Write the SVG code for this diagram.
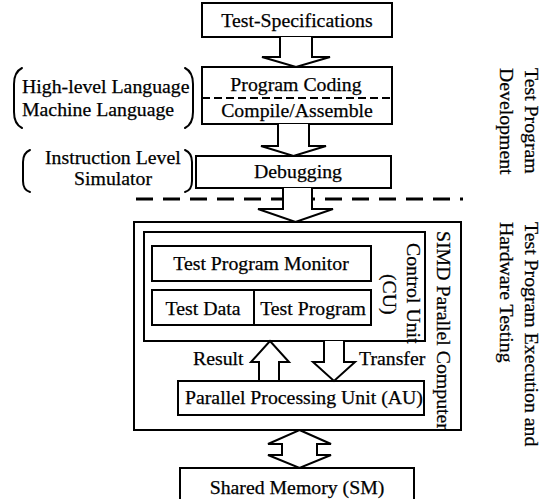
<svg xmlns="http://www.w3.org/2000/svg" width="546" height="499" viewBox="0 0 546 499">
  <style>
    .box { fill: #fff; stroke: #000; stroke-width: 2; }
    .frame { fill: none; stroke: #000; stroke-width: 2; }
    .arrow { fill: #fff; stroke: #000; stroke-width: 2; stroke-linejoin: miter; }
    .brace { fill: none; stroke: #000; stroke-width: 2; stroke-linecap: round; }
    text { font-family: 'Liberation Serif', 'DejaVu Serif', serif; font-size: 19.8px; fill: #000; stroke: #000; stroke-width: 0.25; }
    .mid { text-anchor: middle; }
  </style>
  <rect width="546" height="499" fill="#fff"/>

  <!-- development flow -->
  <g id="test-specifications">
    <rect class="box" x="202" y="3" width="190" height="34"/>
    <text class="mid" x="297" y="27">Test-Specifications</text>
  </g>

  <g id="coding">
    <rect class="box" x="202" y="67" width="190" height="57"/>
    <line x1="202" y1="98" x2="392" y2="98" stroke="#000" stroke-width="2" stroke-dasharray="8 4"/>
    <text class="mid" x="296" y="91">Program Coding</text>
    <text class="mid" x="297" y="117">Compile/Assemble</text>
  </g>

  <g id="languages">
    <path class="brace" d="M22,68 Q14,72 14,84 L14,112 Q14,124 22,128"/>
    <path class="brace" d="M185,68 Q193,72 193,84 L193,112 Q193,124 185,128"/>
    <text x="22" y="93">High-level Language</text>
    <text x="22" y="116">Machine Language</text>
  </g>

  <g id="debugging">
    <rect class="box" x="196" y="156" width="195" height="32"/>
    <text class="mid" x="298" y="178">Debugging</text>
  </g>

  <g id="simulator">
    <path class="brace" d="M30,150 Q23,153 23,162 L23,181 Q23,190 30,192"/>
    <path class="brace" d="M185,150 Q192,153 192,162 L192,181 Q192,190 185,192"/>
    <text x="45" y="164">Instruction Level</text>
    <text x="74" y="185">Simulator</text>
  </g>

  <!-- phase separator -->
  <line x1="136" y1="199" x2="463" y2="199" stroke="#000" stroke-width="3" stroke-dasharray="17 10"/>

  <!-- execution hardware -->
  <g id="simd-computer">
    <rect class="frame" x="134" y="222" width="327" height="208"/>
    <text transform="translate(437,231) rotate(90)">SIMD Parallel Computer</text>
  </g>

  <g id="control-unit">
    <rect class="frame" x="144" y="232" width="281" height="109"/>
    <text transform="translate(407,243) rotate(90)">Control Unit</text>
    <text transform="translate(383,274) rotate(90)">(CU)</text>
  </g>

  <g id="test-program-monitor">
    <rect class="box" x="152" y="246" width="219" height="35"/>
    <text class="mid" x="261" y="270">Test Program Monitor</text>
  </g>

  <g id="test-data">
    <rect class="box" x="152" y="290" width="102" height="35"/>
    <text class="mid" x="203" y="315">Test Data</text>
  </g>

  <g id="test-program">
    <rect class="box" x="254" y="290" width="117" height="35"/>
    <text class="mid" x="313" y="315">Test Program</text>
  </g>

  <g id="parallel-processing-unit">
    <rect class="box" x="178" y="381" width="246" height="34"/>
    <text x="185" y="404">Parallel Processing Unit (AU)</text>
  </g>

  <g id="shared-memory">
    <rect class="box" x="180" y="468" width="234" height="50"/>
    <text class="mid" x="297" y="494">Shared Memory (SM)</text>
  </g>

  <!-- phase labels -->
  <g id="phase-development">
    <text transform="translate(525,68) rotate(90)">Test Program</text>
    <text transform="translate(500,68) rotate(90)">Development</text>
  </g>
  <g id="phase-execution">
    <text transform="translate(525,222) rotate(90)">Test Program Execution and</text>
    <text transform="translate(500,222) rotate(90)">Hardware Testing</text>
  </g>

  <!-- block arrows -->
  <g id="connectors">
    <path class="arrow" d="M280,37 L280,57 L262,57 L296,67 L330,57 L312,57 L312,37"/>
    <path class="arrow" d="M278,124 L278,146 L261,146 L293.5,156 L326,146 L309,146 L309,124"/>
    <path class="arrow" d="M283,188 L283,209 L258,209 L295.5,222 L333,209 L312,209 L312,188"/>
    <path class="arrow" d="M259,380 L259,362 L251,362 L270,341 L289,362 L279,362 L279,380"/>
    <text x="193" y="365">Result</text>
    <path class="arrow" d="M324,341 L324,362 L313,362 L334,381 L355,362 L344,362 L344,341"/>
    <text x="359" y="365">Transfer</text>
    <path class="arrow" d="M299.5,430 L331,444 L317,444 L317,455 L331,455 L299.5,468 L268,455 L282,455 L282,444 L268,444 Z"/>
  </g>
</svg>
